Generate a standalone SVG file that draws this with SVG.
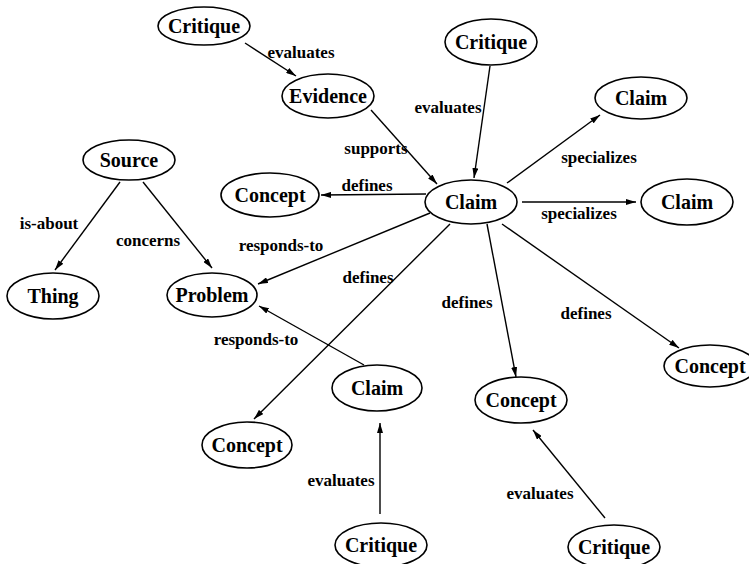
<svg xmlns="http://www.w3.org/2000/svg" width="749" height="564" viewBox="0 0 749 564">
<style>
.n ellipse{fill:#fff;stroke:#000;stroke-width:1.6}
.n text{font-family:"Liberation Serif","Times New Roman",serif;font-size:20px;font-weight:bold;text-anchor:middle;dominant-baseline:central}
.e line{stroke:#000;stroke-width:1.4}
.lbl{font-family:"Liberation Serif","Times New Roman",serif;font-size:17px;font-weight:bold;text-anchor:middle;dominant-baseline:central}
</style>
<defs>
<marker id="ah" viewBox="0 0 10 6" refX="10" refY="3" markerWidth="10" markerHeight="6" markerUnits="userSpaceOnUse" orient="auto">
<path d="M0,0 L10,3 L0,6 z" fill="#000"/>
</marker>
</defs>
<g id="edges" class="e">
<line x1="245" y1="43" x2="296" y2="76" marker-end="url(#ah)"/>
<line x1="371" y1="110" x2="437" y2="184" marker-end="url(#ah)"/>
<line x1="490" y1="66" x2="474" y2="178" marker-end="url(#ah)"/>
<line x1="507" y1="183" x2="600" y2="115" marker-end="url(#ah)"/>
<line x1="522" y1="202" x2="636" y2="202" marker-end="url(#ah)"/>
<line x1="426" y1="194" x2="321" y2="195" marker-end="url(#ah)"/>
<line x1="430" y1="213" x2="258" y2="284" marker-end="url(#ah)"/>
<line x1="450" y1="224" x2="254" y2="419" marker-end="url(#ah)"/>
<line x1="487" y1="224" x2="516" y2="377" marker-end="url(#ah)"/>
<line x1="502" y1="224" x2="679" y2="348" marker-end="url(#ah)"/>
<line x1="120" y1="182" x2="55" y2="270" marker-end="url(#ah)"/>
<line x1="143" y1="182" x2="212" y2="268" marker-end="url(#ah)"/>
<line x1="364" y1="365" x2="259" y2="306" marker-end="url(#ah)"/>
<line x1="380" y1="514" x2="380" y2="423" marker-end="url(#ah)"/>
<line x1="605" y1="518" x2="533" y2="430" marker-end="url(#ah)"/>
<text class="lbl" x="301" y="52">evaluates</text>
<text class="lbl" x="376" y="148">supports</text>
<text class="lbl" x="448" y="107">evaluates</text>
<text class="lbl" x="599" y="157">specializes</text>
<text class="lbl" x="579" y="213">specializes</text>
<text class="lbl" x="367" y="185">defines</text>
<text class="lbl" x="281" y="245">responds-to</text>
<text class="lbl" x="368" y="277">defines</text>
<text class="lbl" x="467" y="302">defines</text>
<text class="lbl" x="586" y="313">defines</text>
<text class="lbl" x="49" y="223">is-about</text>
<text class="lbl" x="148" y="240">concerns</text>
<text class="lbl" x="256" y="339">responds-to</text>
<text class="lbl" x="341" y="480">evaluates</text>
<text class="lbl" x="540" y="493">evaluates</text>
</g>
<g id="critique1" class="n"><ellipse cx="204" cy="26" rx="46" ry="19"/><text x="204" y="26">Critique</text></g>
<g id="evidence" class="n"><ellipse cx="328" cy="96" rx="46" ry="22"/><text x="328" y="96">Evidence</text></g>
<g id="critique2" class="n"><ellipse cx="491" cy="42" rx="46" ry="23"/><text x="491" y="42">Critique</text></g>
<g id="claim_ur" class="n"><ellipse cx="641" cy="98" rx="46" ry="21"/><text x="641" y="98">Claim</text></g>
<g id="claim_c" class="n"><ellipse cx="471" cy="202" rx="46" ry="22"/><text x="471" y="202">Claim</text></g>
<g id="claim_r" class="n"><ellipse cx="687" cy="202" rx="46" ry="23"/><text x="687" y="202">Claim</text></g>
<g id="source" class="n"><ellipse cx="129" cy="160" rx="46" ry="20"/><text x="129" y="160">Source</text></g>
<g id="concept_l" class="n"><ellipse cx="270" cy="195" rx="49" ry="22"/><text x="270" y="195">Concept</text></g>
<g id="thing" class="n"><ellipse cx="53" cy="296" rx="46" ry="23"/><text x="53" y="296">Thing</text></g>
<g id="problem" class="n"><ellipse cx="212" cy="295" rx="45" ry="22"/><text x="212" y="295">Problem</text></g>
<g id="claim_low" class="n"><ellipse cx="377" cy="388" rx="45" ry="23"/><text x="377" y="388">Claim</text></g>
<g id="concept_ll" class="n"><ellipse cx="247" cy="445" rx="45" ry="23"/><text x="247" y="445">Concept</text></g>
<g id="critique3" class="n"><ellipse cx="381" cy="545" rx="46" ry="22"/><text x="381" y="545">Critique</text></g>
<g id="concept_c" class="n"><ellipse cx="521" cy="400" rx="46" ry="23"/><text x="521" y="400">Concept</text></g>
<g id="concept_r" class="n"><ellipse cx="710" cy="366" rx="46" ry="21"/><text x="710" y="366">Concept</text></g>
<g id="critique4" class="n"><ellipse cx="614" cy="547" rx="46" ry="22"/><text x="614" y="547">Critique</text></g>
</svg>
